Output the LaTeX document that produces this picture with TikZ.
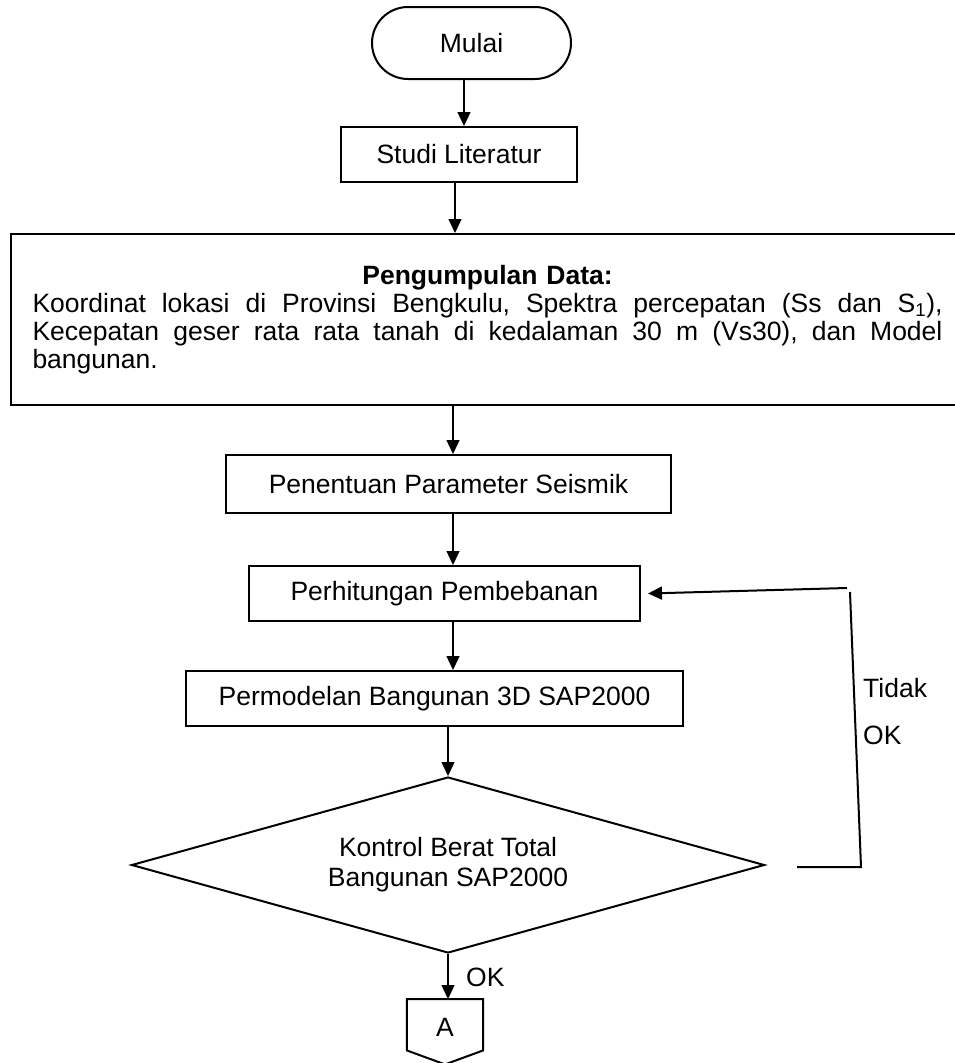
\documentclass[tikz,border=0pt]{standalone}
\usepackage{fontspec}
\setmainfont{Liberation Sans}
\usetikzlibrary{shapes.geometric,arrows.meta,calc}
\newcommand\jline[1]{\leavevmode\hbox to 910pt{#1}}
\begin{document}
\begin{tikzpicture}[x=1pt,y=-1pt,
  font=\fontsize{26.5}{27.8}\selectfont,
  box/.style={draw, line width=2pt, rectangle, inner sep=0pt},
  arr/.style={line width=1.3pt, -{Triangle[length=14pt,width=13pt]}},
  ln/.style={line width=2pt},
  lbl/.style={inner sep=0pt, anchor=west}]
\useasboundingbox (0,0) rectangle (954,1063);
\node[box, rounded corners=36pt, minimum width=199pt, minimum height=72pt] (mulai) at (471.5,43) {Mulai};
\node[box, minimum width=236pt, minimum height=55pt] (studi) at (459,154.5) {Studi Literatur};
\node[box, anchor=north west, minimum width=953pt, minimum height=171pt, text width=910pt, align=center] (data) at (10,233)
  {\textbf{Pengumpulan Data:}\\
   \jline{Koordinat\hfill lokasi\hfill di\hfill Provinsi\hfill Bengkulu,\hfill Spektra\hfill percepatan\hfill (Ss\hfill dan\hfill S\textsubscript{1}),}\\
   \jline{Kecepatan\hfill geser\hfill rata\hfill rata\hfill tanah\hfill di\hfill kedalaman\hfill 30\hfill m\hfill (Vs30),\hfill dan\hfill Model}\\
   \jline{bangunan.\hfill}};
\node[box, minimum width=445pt, minimum height=58pt] (penentuan) at (448.5,484) {Penentuan Parameter Seismik};
\node[box, minimum width=391pt, minimum height=55pt] (perhitungan) at (444.5,593.5) {Perhitungan Pembebanan};
\node[box, minimum width=497pt, minimum height=55pt] (permodelan) at (434.5,698.5) {Permodelan Bangunan 3D SAP2000};
\node[diamond, draw, line width=2pt, aspect=3.6, inner sep=0pt, minimum width=633pt, minimum height=176pt, align=center,
  font=\fontsize{26.5}{30}\selectfont] (kontrol) at (448,865) {Kontrol Berat Total\\Bangunan SAP2000};
\node[minimum width=76pt, minimum height=51pt, inner sep=0pt, anchor=north] (A) at (445,999) {};
\node (Atxt) at ($(A.center)+(0,3)$) {A};
\draw[ln] (A.north west) -- (A.north east) -- (A.south east) -- ($(A.south)+(0,14)$) -- (A.south west) -- cycle;

\draw[arr] ([xshift=-7.5pt]mulai.south) -- ([xshift=-7.5pt]mulai.south |- studi.north);
\draw[arr] ([xshift=-4pt]studi.south) -- ([xshift=-4pt]studi.south |- data.north);
\draw[arr] ([xshift=4.5pt]penentuan.north |- data.south) -- ([xshift=4.5pt]penentuan.north);
\draw[arr] ([xshift=4.5pt]penentuan.south) -- ([xshift=4.5pt]penentuan.south |- perhitungan.north);
\draw[arr] ([xshift=8.5pt]perhitungan.south) -- ([xshift=8.5pt]perhitungan.south |- permodelan.north);
\draw[arr] (kontrol.north |- permodelan.south) -- (kontrol.north);
\draw[arr] (kontrol.south) -- (kontrol.south |- A.north);

\coordinate (fb1) at (797,867);
\coordinate (fb2) at (861,867);
\coordinate (fb3) at (850,592);
\coordinate (fb4) at (847,588);
\draw[ln] (fb1) -- (fb2) -- (fb3);
\draw[arr, line width=2pt] (fb4) -- ([xshift=7pt]perhitungan.east);

\node[lbl] (tidak) at (863,688) {Tidak};
\node[lbl] (ok1) at (863,735) {OK};
\node[lbl] (ok2) at (466,977) {OK};
\end{tikzpicture}
\end{document}
